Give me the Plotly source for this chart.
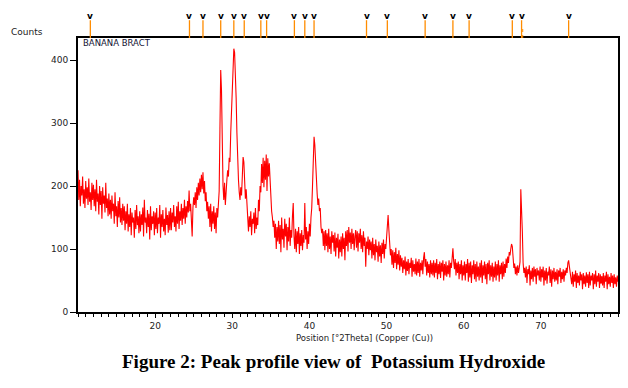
import numpy as np
import plotly.graph_objects as go

# ---- data (counts every 0.1 deg 2theta) ----
start_2theta = 10.0
step_2theta = 0.1
counts = [
    225, 178, 210, 168, 200, 185, 215, 172, 195, 165, 208, 180, 198, 170, 212, 175, 190, 162, 205, 178,  # 10
    202, 168, 195, 160, 210, 175, 188, 155, 200, 170, 192, 148, 198, 172, 185, 158, 205, 165, 180, 152,  # 12
    188, 155, 178, 148, 185, 160, 172, 140, 190, 152, 168, 135, 176, 150, 182, 142, 165, 138, 172, 145,  # 14
    168, 130, 160, 140, 172, 128, 155, 135, 165, 122, 158, 142, 150, 118, 162, 132, 170, 138, 152, 125,  # 16
    160, 128, 155, 138, 166, 120, 178, 142, 150, 125, 162, 135, 156, 115, 168, 130, 152, 140, 160, 122,  # 18
    158, 132, 165, 125, 150, 140, 170, 118, 155, 135, 162, 128, 148, 122, 166, 138, 154, 126, 160, 130,  # 20
    165, 130, 158, 142, 170, 135, 152, 128, 168, 140, 175, 132, 160, 145, 172, 138, 165, 148, 178, 140,  # 22
    168, 150, 176, 158, 193, 160, 172, 150, 120, 165, 182, 170, 190, 165, 198, 178, 205, 185, 212, 190,  # 24
    218, 195, 222, 188, 208, 176, 190, 160, 175, 148, 168, 135, 172, 128, 160, 140, 168, 132, 158, 125,  # 26
    165, 150, 175, 192, 290, 384, 352, 240, 200, 178, 205, 170, 198, 210, 225, 215, 245, 238, 285, 320,  # 28
    345, 400, 418, 412, 380, 340, 284, 236, 210, 190, 178, 198, 185, 215, 246, 238, 205, 180, 195, 170,  # 30
    165, 128, 152, 135, 160, 122, 148, 140, 158, 125, 165, 132, 150, 138, 178, 160, 200, 190, 235, 205,  # 32
    245, 198, 240, 210, 250, 192, 244, 215, 236, 200, 178, 160, 150, 135, 145, 118, 140, 100, 135, 112,  # 34
    145, 108, 138, 95, 150, 115, 132, 102, 148, 120, 140, 98, 135, 112, 150, 105, 130, 118, 152, 173,    # 36
    120, 100, 132, 95, 128, 108, 135, 92, 125, 105, 130, 98, 122, 110, 173, 115, 135, 100, 128, 108,     # 38
    140, 120, 150, 165, 200, 245, 278, 265, 230, 205, 188, 170, 180, 160, 165, 135, 125, 132, 105, 128,  # 40
    98, 130, 105, 125, 95, 132, 100, 120, 92, 128, 110, 122, 96, 126, 88, 118, 102, 124, 85, 115,        # 42
    95, 120, 88, 125, 100, 118, 82, 128, 105, 130, 96, 135, 110, 126, 100, 132, 108, 125, 98, 120,       # 44
    130, 102, 128, 96, 125, 110, 132, 100, 122, 95, 128, 105, 118, 72, 112, 100, 120, 90, 115, 98,       # 46
    112, 85, 118, 90, 108, 82, 115, 95, 105, 80, 112, 88, 106, 78, 110, 92, 115, 85, 108, 100,          # 48
    118, 128, 154, 130, 105, 90, 100, 75, 98, 70, 95, 78, 102, 68, 92, 75, 98, 66, 90, 72,              # 50
    86, 62, 82, 68, 88, 58, 80, 65, 84, 60, 78, 70, 86, 56, 82, 64, 76, 60, 85, 58,                     # 52
    80, 62, 84, 56, 78, 66, 82, 60, 86, 95, 72, 84, 58, 80, 62, 76, 55, 82, 60, 78,                     # 54
    58, 82, 55, 78, 62, 84, 52, 76, 60, 80, 54, 78, 64, 82, 50, 76, 58, 80, 56, 74,                     # 56
    60, 82, 55, 78, 70, 88, 101, 80, 68, 84, 58, 78, 62, 80, 52, 76, 60, 82, 50, 74,                    # 58
    58, 80, 50, 76, 62, 84, 48, 78, 55, 80, 46, 74, 60, 82, 52, 76, 48, 80, 56, 72,                     # 60
    50, 78, 55, 82, 46, 74, 58, 80, 52, 76, 44, 78, 60, 82, 50, 74, 56, 78, 48, 72,                     # 62
    55, 80, 50, 76, 58, 82, 48, 74, 60, 78, 52, 80, 56, 76, 62, 85, 70, 88, 78, 95,                     # 64
    90, 100, 108, 104, 88, 70, 77, 60, 72, 58, 74, 62, 70, 80, 195, 130, 128, 78, 62, 70,               # 66
    55, 72, 46, 68, 60, 74, 42, 66, 52, 70, 48, 72, 56, 68, 44, 70, 58, 66, 50, 72,                     # 68
    48, 68, 55, 72, 42, 66, 50, 70, 45, 64, 58, 72, 46, 68, 40, 66, 52, 70, 48, 64,                     # 70
    50, 68, 44, 66, 56, 70, 46, 64, 52, 68, 48, 66, 58, 70, 62, 78, 82, 72, 64, 58,                     # 72
    44, 64, 40, 60, 48, 66, 38, 62, 46, 58, 42, 64, 50, 60, 36, 62, 44, 58, 40, 63,                     # 74
    46, 60, 38, 64, 42, 58, 50, 62, 36, 60, 44, 66, 40, 58, 48, 62, 38, 60, 45, 57,                     # 76
    42, 62, 38, 58, 48, 64, 36, 60, 44, 56, 40, 62, 46, 58, 38, 60, 44, 55, 40, 58, 48,                 # 78-80
]
two_theta = np.round(start_2theta + step_2theta * np.arange(len(counts)), 2)

peak_positions = [11.6, 24.45, 26.2, 28.5, 30.2, 31.55, 33.7, 34.45, 38.05,
                  39.4, 40.6, 47.4, 50.1, 55.0, 58.6, 60.7, 66.3, 67.5, 73.6]
dashed_peaks = [67.65]

x_tick_vals = [20, 30, 40, 50, 60, 70]
y_tick_vals = [0, 100, 200, 300, 400]

sample_name = "BANANA BRACT"
caption = "Figure 2: Peak profile view of\u00a0 Potassium Hydroxide"

# ---- figure ----
fig = go.Figure()
fig.add_trace(go.Scatter(x=two_theta, y=counts, mode="lines",
                         line=dict(color="#ff0000", width=1.1),
                         hoverinfo="skip", showlegend=False))

STICK_TOP = 1.065
for p in peak_positions:
    fig.add_shape(type="line", xref="x", yref="paper", x0=p, x1=p, y0=1.0, y1=STICK_TOP,
                  line=dict(color="#ff8c00", width=1.3))
    fig.add_annotation(x=p, y=STICK_TOP, xref="x", yref="paper", text="<b>v</b>",
                       showarrow=False, yanchor="bottom", yshift=-3,
                       font=dict(family="DejaVu Sans", size=9, color="#000"))
for p in dashed_peaks:
    fig.add_shape(type="line", xref="x", yref="paper", x0=p, x1=p, y0=1.0, y1=1.04,
                  line=dict(color="#ff8c00", width=1, dash="dot"))

fig.add_annotation(x=-0.127, y=1.021, xref="paper", yref="paper", text="Counts",
                   showarrow=False, xanchor="left", yanchor="middle",
                   font=dict(family="DejaVu Sans", size=9, color="#222"))
fig.add_annotation(x=0.006, y=0.982, xref="paper", yref="paper", text=sample_name,
                   showarrow=False, xanchor="left", yanchor="middle",
                   font=dict(family="DejaVu Sans", size=8.5, color="#111133"))
fig.add_annotation(x=0.53, y=-0.096, xref="paper", yref="paper",
                   text="Position [°2Theta] (Copper (Cu))",
                   showarrow=False, xanchor="center", yanchor="middle",
                   font=dict(family="DejaVu Sans", size=8.5, color="#222"))
fig.add_annotation(x=0.474, y=-0.18, xref="paper", yref="paper",
                   text="<b>" + caption + "</b>",
                   showarrow=False, xanchor="center", yanchor="middle",
                   font=dict(family="Liberation Serif", size=19, color="#000"))

fig.update_layout(
    width=628, height=388,
    margin=dict(l=78, r=8, t=38, b=76),
    paper_bgcolor="white", plot_bgcolor="white",
    showlegend=False,
    xaxis=dict(range=[10, 80], tickvals=x_tick_vals, ticks="outside", ticklen=4,
               tickcolor="#000", tickwidth=1,
               minor=dict(dtick=1, tick0=0, ticks="outside", ticklen=3, tickcolor="#000"),
               showgrid=False, zeroline=False,
               showline=True, linecolor="#000", linewidth=2, mirror=True,
               tickfont=dict(family="DejaVu Sans", size=9, color="#222")),
    yaxis=dict(range=[0, 435], tickvals=y_tick_vals, ticks="outside", ticklen=6,
               tickcolor="#000", tickwidth=1,
               showgrid=False, zeroline=False,
               showline=True, linecolor="#000", linewidth=2, mirror=True,
               tickfont=dict(family="DejaVu Sans", size=9, color="#222")),
)

fig.write_html("out.html", config={"displayModeBar": False},
               post_script="document.body.style.margin='0px';document.body.style.overflow='hidden';")
